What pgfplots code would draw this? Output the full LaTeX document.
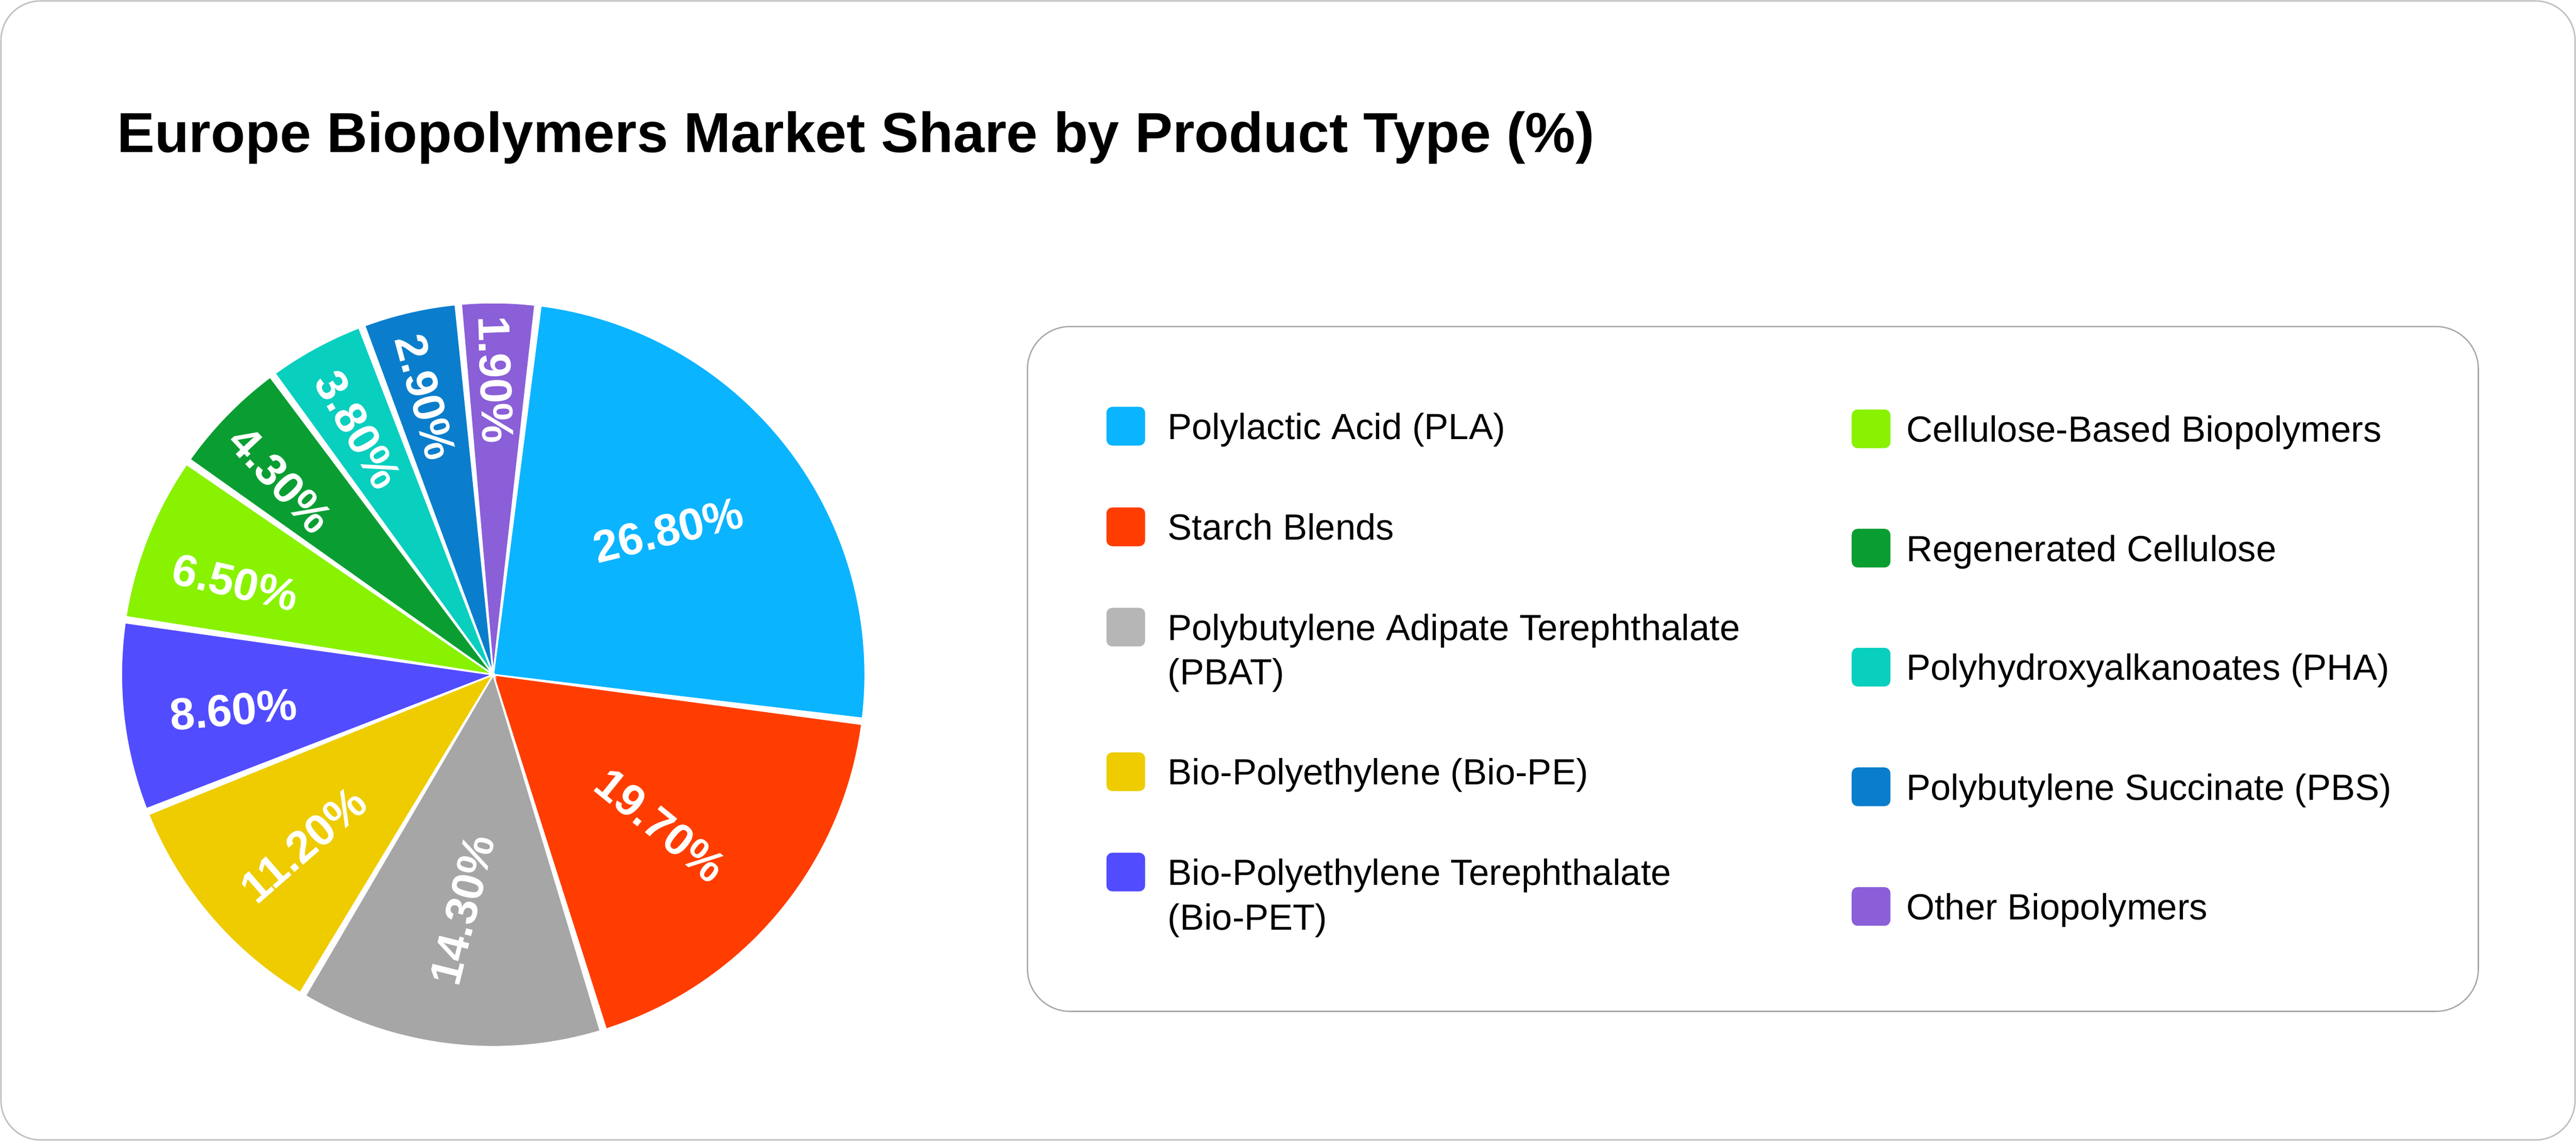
\documentclass[border=0pt]{standalone}
\usepackage{fontspec}
\setmainfont{Liberation Sans}
\usepackage{pgfplots}
\pgfplotsset{compat=1.18}
\definecolor{cPLA}{HTML}{0BB4FF}
\definecolor{cSB}{HTML}{FF3D00}
\definecolor{cPBAT}{HTML}{A6A6A6}
\definecolor{cPBATl}{HTML}{B6B6B6}
\definecolor{cPE}{HTML}{EECC00}
\definecolor{cPET}{HTML}{524CFF}
\definecolor{cCEL}{HTML}{88F200}
\definecolor{cREG}{HTML}{0A9E32}
\definecolor{cPHA}{HTML}{09CFBF}
\definecolor{cPBS}{HTML}{0A7ECC}
\definecolor{cOTH}{HTML}{8A5FD8}
\definecolor{cardline}{HTML}{C2C2C2}
\definecolor{legline}{HTML}{A8A8A8}
\begin{document}
\begin{tikzpicture}[x=1bp,y=1bp]
\useasboundingbox (0,0) rectangle (786,348);
\draw[line width=0.45bp, draw=cardline, fill=white, rounded corners=12bp] (0.3,0.3) rectangle (785.7,347.7);
\node[anchor=base west, inner sep=0, font=\fontsize{17.2bp}{20bp}\selectfont\bfseries] at (35.5,301.5) {Europe Biopolymers Market Share by Product Type (\%)};
% pie: slice angles (degrees, start:end) as drawn in the reference
\begin{axis}[at={(150.5bp,142.2bp)}, anchor=center, width=227bp, height=227bp,
  scale only axis, xmin=-1, xmax=1, ymin=-1, ymax=1, hide axis, clip=false]
\addplot[fill=cPLA, draw=white, line width=0.5bp, domain=-6.75:82.65, samples=90] ({cos(x)},{sin(x)}) -- (axis cs:0,0) -- cycle;
\addplot[fill=cSB, draw=white, line width=0.5bp, domain=-72.35:-7.65, samples=70] ({cos(x)},{sin(x)}) -- (axis cs:0,0) -- cycle;
\addplot[fill=cPBAT, draw=white, line width=0.5bp, domain=-120.35:-73.25, samples=60] ({cos(x)},{sin(x)}) -- (axis cs:0,0) -- cycle;
\addplot[fill=cPE, draw=white, line width=0.5bp, domain=-157.95:-121.25, samples=50] ({cos(x)},{sin(x)}) -- (axis cs:0,0) -- cycle;
\addplot[fill=cPET, draw=white, line width=0.5bp, domain=-188.05:-158.85, samples=40] ({cos(x)},{sin(x)}) -- (axis cs:0,0) -- cycle;
\addplot[fill=cCEL, draw=white, line width=0.5bp, domain=-214.45:-188.95, samples=40] ({cos(x)},{sin(x)}) -- (axis cs:0,0) -- cycle;
\addplot[fill=cREG, draw=white, line width=0.5bp, domain=-233.15:-215.35, samples=30] ({cos(x)},{sin(x)}) -- (axis cs:0,0) -- cycle;
\addplot[fill=cPHA, draw=white, line width=0.5bp, domain=-248.85:-234.05, samples=30] ({cos(x)},{sin(x)}) -- (axis cs:0,0) -- cycle;
\addplot[fill=cPBS, draw=white, line width=0.5bp, domain=-264.15:-249.75, samples=30] ({cos(x)},{sin(x)}) -- (axis cs:0,0) -- cycle;
\addplot[fill=cOTH, draw=white, line width=0.5bp, domain=-276.45:-265.05, samples=30] ({cos(x)},{sin(x)}) -- (axis cs:0,0) -- cycle;
\begin{scope}[every node/.style={text=white, inner sep=0, font=\fontsize{13.7bp}{16bp}\selectfont\bfseries}]
\node[rotate=14] at (axis cs:0.470,0.389) {26.80\%};
\node[rotate=-39] at (axis cs:0.450,-0.404) {19.70\%};
\node[rotate=76] at (axis cs:-0.084,-0.632) {14.30\%};
\node[rotate=41] at (axis cs:-0.511,-0.457) {11.20\%};
\node[rotate=5] at (axis cs:-0.699,-0.094) {8.60\%};
\node[rotate=-13] at (axis cs:-0.693,0.248) {6.50\%};
\node[rotate=-47] at (axis cs:-0.571,0.524) {4.30\%};
\node[rotate=-60] at (axis cs:-0.363,0.659) {3.80\%};
\node[rotate=-75] at (axis cs:-0.181,0.746) {2.90\%};
\node[rotate=-88] at (axis cs:0.007,0.793) {1.90\%};
\end{scope}
\end{axis}
% legend
\draw[line width=0.4bp, draw=legline, rounded corners=13bp] (313.5,39.5) rectangle (756.2,248.4);
\begin{scope}[every node/.style={anchor=base west, inner sep=0, font=\fontsize{11.1bp}{13.6bp}\selectfont}]
\fill[cPLA, rounded corners=1.8bp] (337.6,212.1) rectangle (349.4,223.9);
\node at (356.1,214.0) {Polylactic Acid (PLA)};
\fill[cSB, rounded corners=1.8bp] (337.6,181.4) rectangle (349.4,193.2);
\node at (356.1,183.3) {Starch Blends};
\fill[cPBATl, rounded corners=1.8bp] (337.6,150.8) rectangle (349.4,162.6);
\node at (356.1,152.7) {Polybutylene Adipate Terephthalate};
\node at (356.1,139.1) {(PBAT)};
\fill[cPE, rounded corners=1.8bp] (337.6,106.7) rectangle (349.4,118.5);
\node at (356.1,108.6) {Bio-Polyethylene (Bio-PE)};
\fill[cPET, rounded corners=1.8bp] (337.6,76.1) rectangle (349.4,87.9);
\node at (356.1,78.0) {Bio-Polyethylene Terephthalate};
\node at (356.1,64.4) {(Bio-PET)};
\fill[cCEL, rounded corners=1.8bp] (565.0,211.3) rectangle (576.8,223.1);
\node at (581.5,213.2) {Cellulose-Based Biopolymers};
\fill[cREG, rounded corners=1.8bp] (565.0,174.9) rectangle (576.8,186.7);
\node at (581.5,176.8) {Regenerated Cellulose};
\fill[cPHA, rounded corners=1.8bp] (565.0,138.6) rectangle (576.8,150.4);
\node at (581.5,140.5) {Polyhydroxyalkanoates (PHA)};
\fill[cPBS, rounded corners=1.8bp] (565.0,102.1) rectangle (576.8,113.9);
\node at (581.5,104.0) {Polybutylene Succinate (PBS)};
\fill[cOTH, rounded corners=1.8bp] (565.0,65.6) rectangle (576.8,77.4);
\node at (581.5,67.5) {Other Biopolymers};
\end{scope}
\end{tikzpicture}
\end{document}
